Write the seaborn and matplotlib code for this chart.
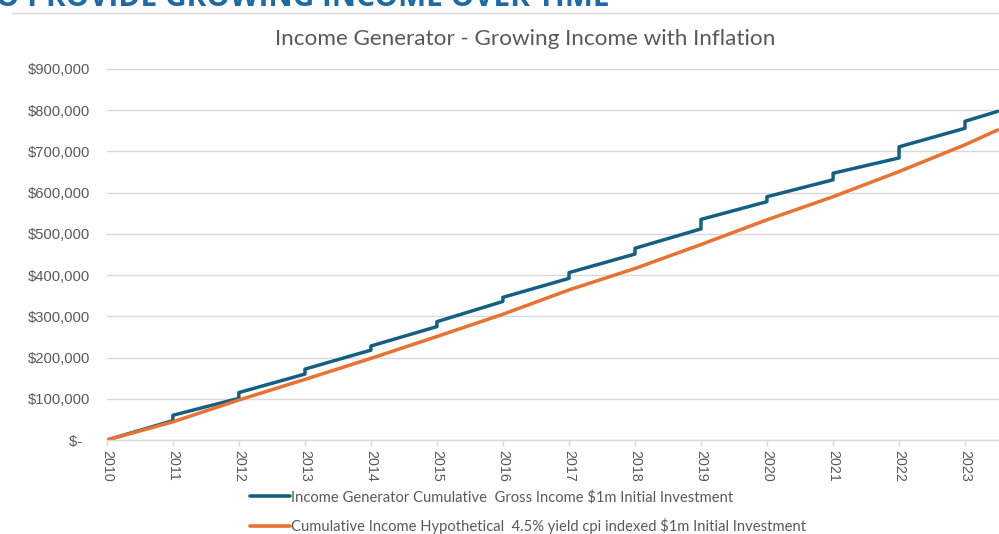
import numpy as np
import pandas as pd
import matplotlib
matplotlib.use('Agg')
import matplotlib.pyplot as plt
import matplotlib.dates as mdates
from matplotlib.ticker import FuncFormatter
import seaborn as sns

# values (cumulative income, $)
# blue series steps up at every January, so each year start appears twice (before / after)
gen_dates = ['2010-01-01',
             '2011-01-01', '2011-01-01', '2012-01-01', '2012-01-01',
             '2013-01-01', '2013-01-01', '2014-01-01', '2014-01-01',
             '2015-01-01', '2015-01-01', '2016-01-01', '2016-01-01',
             '2017-01-01', '2017-01-01', '2018-01-01', '2018-01-01',
             '2019-01-01', '2019-01-01', '2020-01-01', '2020-01-01',
             '2021-01-01', '2021-01-01', '2022-01-01', '2022-01-01',
             '2023-01-01', '2023-01-01', '2023-07-01']
gen_income = [0,
              47000, 60000, 101000, 115000,
              160000, 172000, 218000, 228000,
              275000, 287000, 336000, 346000,
              392000, 406000, 451000, 465000,
              512000, 535000, 578000, 590000,
              631000, 647000, 684000, 711000,
              756000, 773000, 797000]

cpi_dates = ['2010-01-01', '2011-01-01', '2012-01-01', '2013-01-01', '2014-01-01',
             '2015-01-01', '2016-01-01', '2017-01-01', '2018-01-01', '2019-01-01',
             '2020-01-01', '2021-01-01', '2022-01-01', '2023-01-01', '2023-07-01']
cpi_income = [0, 44000, 97000, 147000, 198000,
              251000, 305000, 364000, 416000, 474000,
              534000, 590000, 651000, 716000, 752000]

gen_label = 'Income Generator Cumulative  Gross Income $1m Initial Investment'
cpi_label = 'Cumulative Income Hypothetical  4.5% yield cpi indexed $1m Initial Investment'

title = 'Income Generator - Growing Income with Inflation'
header = 'TO PROVIDE GROWING INCOME OVER TIME'

blue = '#156082'
orange = '#E97132'
grey_txt = '#595959'
grid_col = '#d9d9d9'

gen = pd.DataFrame({'date': pd.to_datetime(gen_dates), 'income': gen_income})
cpi = pd.DataFrame({'date': pd.to_datetime(cpi_dates), 'income': cpi_income})

sns.set_theme(style='white')
plt.rcParams['font.family'] = ['Liberation Sans', 'DejaVu Sans']

fig = plt.figure(figsize=(9.99, 5.34), dpi=100)
ax = fig.add_axes([0.107, 0.176, 0.893, 0.695])

sns.lineplot(data=gen, x='date', y='income', estimator=None, sort=False,
             color=blue, linewidth=2.5, label=gen_label, ax=ax)
sns.lineplot(data=cpi, x='date', y='income', estimator=None, sort=False,
             color=orange, linewidth=2.5, label=cpi_label, ax=ax)

ax.set_ylim(0, 900000)
ax.set_xlim(pd.Timestamp('2010-01-01'), pd.Timestamp('2023-07-08'))
ax.set_yticks(np.arange(0, 900001, 100000))
ax.yaxis.set_major_formatter(FuncFormatter(lambda v, p: '$-  ' if v == 0 else '${:,.0f}'.format(v)))
ax.xaxis.set_major_locator(mdates.YearLocator())
ax.xaxis.set_major_formatter(mdates.DateFormatter('%Y'))

ax.set_xlabel('')
ax.set_ylabel('')
ax.grid(axis='y', color=grid_col, linewidth=1)
ax.set_axisbelow(True)
for s in ['top', 'right', 'left']:
    ax.spines[s].set_visible(False)
ax.spines['bottom'].set_color(grid_col)
ax.spines['bottom'].set_linewidth(1)

ax.tick_params(axis='y', length=0, pad=12, labelsize=10.6, labelcolor=grey_txt)
ax.tick_params(axis='x', bottom=True, length=4, width=1, color=grid_col, pad=3,
               labelsize=10.3, labelcolor=grey_txt)
for lab in ax.get_xticklabels():
    lab.set_rotation(-90)
    lab.set_ha('center')
    lab.set_va('top')

# legend under the plot
ax.get_legend().remove()
h, l = ax.get_legend_handles_labels()
leg = fig.legend(h, l, loc='upper left', bbox_to_anchor=(250 / 999, 1 - 490 / 534),
                 frameon=False, borderpad=0, borderaxespad=0, handlelength=2.7,
                 handletextpad=0.1, labelspacing=0.95,
                 prop={'family': 'Lato', 'size': 10.6})
for t in leg.get_texts():
    t.set_color(grey_txt)
for ln in leg.get_lines():
    ln.set_linewidth(2.6)

fig.text(0.526, 1 - 39 / 534, title, ha='center', va='center', fontsize=16.2,
         color=grey_txt, family='Lato')

# page header, cut off at the top of the screenshot
fig.text(610 / 999, 1 - 6 / 534, header, ha='right', va='baseline', fontsize=21.5,
         fontweight='bold', color='#1c6aa6', family='Open Sans')
fig.add_artist(plt.Line2D([12 / 999, 1.0], [1 - 13 / 534, 1 - 13 / 534],
                          transform=fig.transFigure, color=grid_col, linewidth=1))

fig.savefig('out.png', dpi=100)
